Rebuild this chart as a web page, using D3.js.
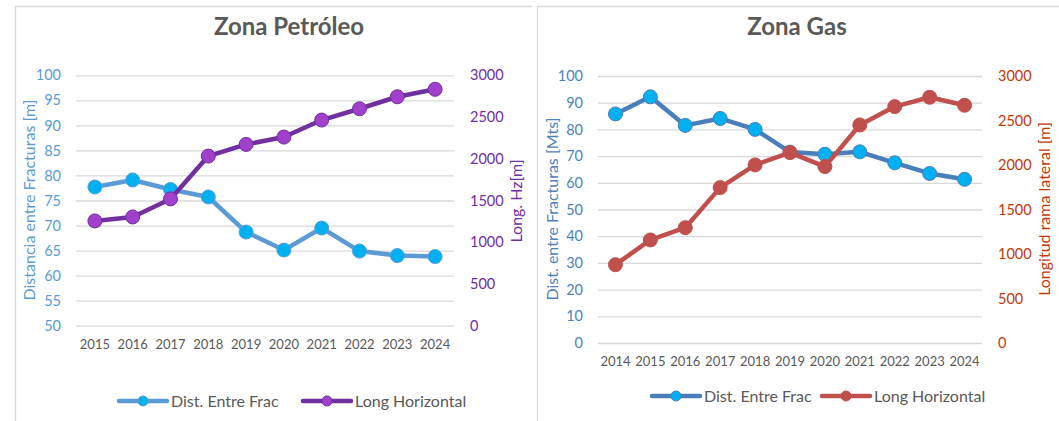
<!DOCTYPE html>
<html><head><meta charset="utf-8">
<script src="https://cdn.jsdelivr.net/npm/d3@7"></script>
<style>
body{margin:0;background:#fff;}
svg{display:block;font-family:Lato, "Open Sans", sans-serif;}
</style></head>
<body><svg id="c" width="1059" height="421"></svg>
<script>
// Zona Petróleo
const petYears = ["2015","2016","2017","2018","2019","2020","2021","2022","2023","2024"];
const petDist  = [77.7, 79.1, 77.2, 75.7, 68.7, 65.1, 69.5, 64.9, 64.0, 63.8];
const petLong  = [1255, 1303, 1519, 2032, 2172, 2260, 2464, 2599, 2743, 2832];
const petLeftTicks  = [50,55,60,65,70,75,80,85,90,95,100];
const petRightTicks = [0,500,1000,1500,2000,2500,3000];

// Zona Gas
const gasYears = ["2014","2015","2016","2017","2018","2019","2020","2021","2022","2023","2024"];
const gasDist  = [85.8, 92.2, 81.5, 84.1, 80.0, 71.5, 70.7, 71.6, 67.5, 63.5, 61.3];
const gasLong  = [880, 1158, 1296, 1746, 2001, 2139, 1982, 2450, 2656, 2761, 2671];
const gasLeftTicks  = [0,10,20,30,40,50,60,70,80,90,100];
const gasRightTicks = [0,500,1000,1500,2000,2500,3000];

const svg = d3.select("#c");
const FF = "Lato, 'Open Sans', sans-serif";

function panel(cfg){
  const g = svg.append("g");
  g.append("path").attr("d", cfg.border).attr("fill","none").attr("stroke","#d9d9d9").attr("stroke-width",1.3);
  g.append("text").attr("x",cfg.titleX).attr("y",35).attr("text-anchor","middle")
    .attr("font-size",24).attr("font-weight","bold").attr("fill","#595959").text(cfg.title);

  const x = d3.scaleBand().domain(cfg.years).range([cfg.x0,cfg.x1]);
  const yL = d3.scaleLinear().domain([cfg.lt[0], cfg.lt[cfg.lt.length-1]]).range([cfg.yb,cfg.yt]);
  const yR = d3.scaleLinear().domain([0,3000]).range([cfg.yb,cfg.yt]);

  const grid = g.append("g").attr("transform",`translate(${cfg.x0},0)`)
    .call(d3.axisLeft(yL).tickValues(cfg.lt).tickSize(-(cfg.x1-cfg.x0)).tickFormat(""));
  grid.select(".domain").remove();
  grid.selectAll("line").attr("stroke","#d9d9d9").attr("stroke-width",1.3);

  const la = g.append("g").attr("transform",`translate(${cfg.lLabelX},0)`)
    .call(d3.axisLeft(yL).tickValues(cfg.lt).tickSize(0).tickPadding(0).tickFormat(d3.format("d")));
  la.select(".domain").remove();
  la.selectAll("text").attr("fill",cfg.lColor).attr("font-size",14.5).attr("font-family",FF);

  const ra = g.append("g").attr("transform",`translate(${cfg.rLabelX},0)`)
    .call(d3.axisRight(yR).tickValues(cfg.rt).tickSize(0).tickPadding(0).tickFormat(d3.format("d")));
  ra.select(".domain").remove();
  ra.selectAll("text").attr("fill",cfg.rColor).attr("font-size",14.5).attr("font-family",FF);

  const xa = g.append("g").attr("transform",`translate(0,${cfg.yb})`)
    .call(d3.axisBottom(x).tickSize(0).tickPadding(14));
  xa.select(".domain").remove();
  xa.selectAll("text").attr("fill","#595959").attr("font-size",13).attr("font-family",FF);

  g.append("text").attr("transform",`translate(${cfg.lTitleX},${cfg.lTitleY}) rotate(-90)`)
    .attr("text-anchor","middle").attr("font-size",cfg.lTitleSize).attr("fill",cfg.lColor).text(cfg.lTitle);
  g.append("text").attr("transform",`translate(${cfg.rTitleX},${cfg.rTitleY}) rotate(-90)`)
    .attr("text-anchor","middle").attr("font-size",cfg.rTitleSize).attr("fill",cfg.rColor).text(cfg.rTitle);

  const cx = d => x(d) + x.bandwidth()/2;
  const lineL = d3.line().x((d,i)=>cx(cfg.years[i])).y(d=>yL(d));
  const lineR = d3.line().x((d,i)=>cx(cfg.years[i])).y(d=>yR(d));

  g.append("path").datum(cfg.dist).attr("d",lineL).attr("fill","none")
    .attr("stroke",cfg.distLine).attr("stroke-width",4.5).attr("stroke-linejoin","round");
  g.selectAll(".md").data(cfg.dist).join("circle").attr("cx",(d,i)=>cx(cfg.years[i])).attr("cy",d=>yL(d))
    .attr("r",7).attr("fill","#00B0F0").attr("stroke",cfg.distLine).attr("stroke-width",1);

  g.append("path").datum(cfg.long).attr("d",lineR).attr("fill","none")
    .attr("stroke",cfg.longLine).attr("stroke-width",4.5).attr("stroke-linejoin","round");
  g.selectAll(".ml").data(cfg.long).join("circle").attr("cx",(d,i)=>cx(cfg.years[i])).attr("cy",d=>yR(d))
    .attr("r",7).attr("fill",cfg.longMark).attr("stroke",cfg.longLine).attr("stroke-width",1);

  const items = [
    {lx:cfg.leg[0], c:cfg.distLine, m:"#00B0F0", t:"Dist. Entre Frac"},
    {lx:cfg.leg[1], c:cfg.longLine, m:cfg.longMark, t:"Long Horizontal"}
  ];
  items.forEach(it=>{
    g.append("line").attr("x1",it.lx).attr("x2",it.lx+48).attr("y1",cfg.legY).attr("y2",cfg.legY)
      .attr("stroke",it.c).attr("stroke-width",4.5).attr("stroke-linecap","round");
    g.append("circle").attr("cx",it.lx+24).attr("cy",cfg.legY).attr("r",5).attr("fill",it.m).attr("stroke",it.c).attr("stroke-width",1);
    g.append("text").attr("x",it.lx+52).attr("y",cfg.legY+5.5).attr("font-size",16).attr("fill","#595959").text(it.t);
  });
}

panel({
  border:"M15.5,430 V6.5 H532",
  title:"Zona Petróleo", titleX:289,
  years:petYears, dist:petDist, long:petLong, lt:petLeftTicks, rt:petRightTicks,
  x0:76, x1:454, yt:75.3, yb:325.7,
  lLabelX:61, rLabelX:470,
  lColor:"#5B9BD5", rColor:"#7030A0",
  lTitle:"Distancia entre Fracturas [m]", rTitle:"Long. Hz[m]",
  lTitleX:35, lTitleY:200, lTitleSize:16,
  rTitleX:522, rTitleY:201, rTitleSize:16,
  distLine:"#5B9BD5", longLine:"#7030A0", longMark:"#A040CB",
  leg:[119,303], legY:401
});

panel({
  border:"M537.5,430 V6.5 H1070",
  title:"Zona Gas", titleX:797,
  years:gasYears, dist:gasDist, long:gasLong, lt:gasLeftTicks, rt:gasRightTicks,
  x0:598, x1:982, yt:76, yb:343,
  lLabelX:583, rLabelX:998,
  lColor:"#4F81BD", rColor:"#C0390B",
  lTitle:"Dist. entre Fracturas [Mts]", rTitle:"Longitud rama lateral [m]",
  lTitleX:558, lTitleY:209, lTitleSize:16,
  rTitleX:1050, rTitleY:209, rTitleSize:16,
  distLine:"#4A7EBB", longLine:"#C0504D", longMark:"#C0504D",
  leg:[652,822], legY:396
});
</script></body></html>
